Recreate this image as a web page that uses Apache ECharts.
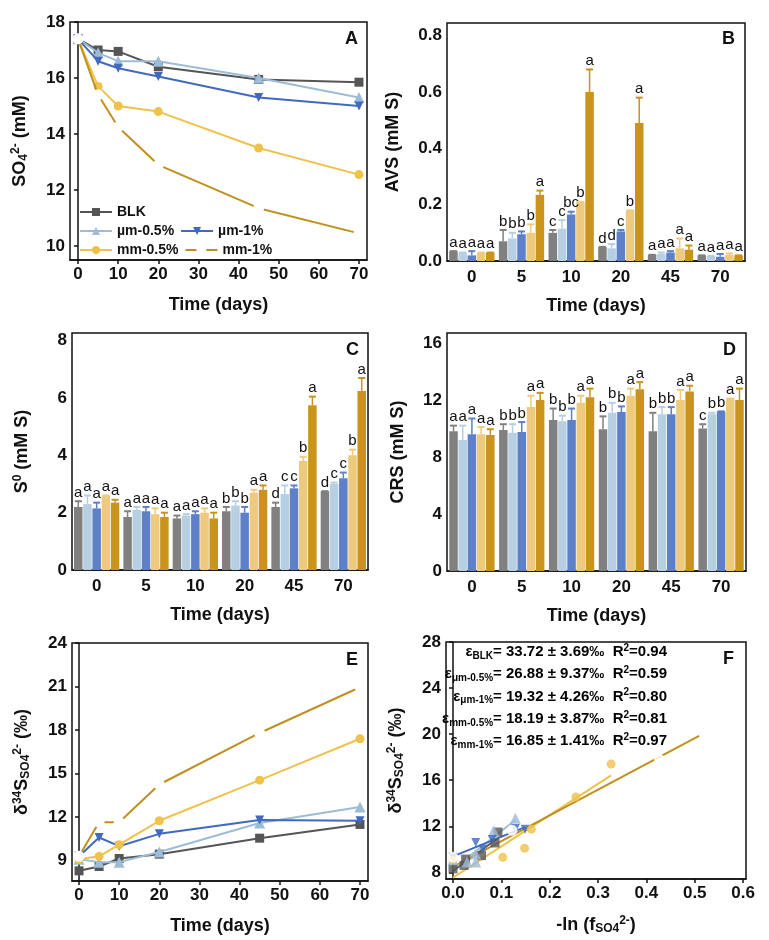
<!DOCTYPE html>
<html>
<head>
<meta charset="utf-8">
<script src="https://cdn.jsdelivr.net/npm/echarts@6/dist/echarts.min.js"></script>
<style>body{margin:0;background:#fff}#c{width:769px;height:940px}</style>
</head>
<body>
<div id="c"></div>
<script>
var names = ['BLK', 'µm-0.5%', 'µm-1%', 'mm-0.5%', 'mm-1%'];
var days = [0, 5, 10, 20, 45, 70];
var dayLabels = ['0', '5', '10', '20', '45', '70'];
var lineColors = ['#555555', '#9dbcd8', '#4169c0', '#efc24c', '#c0901e'];
var barColors = ['#808080', '#b7cfe2', '#5d80c8', '#edca7e', '#c9931c'];
var symbols = ['rect', 'triangle', 'path://M0,0L10,0L5,10Z', 'circle', 'emptyCircle'];

// A: sulfate (mM)
var so4 = [
  [17.4, 17.0, 16.95, 16.4, 15.95, 15.85],
  [17.4, 16.9, 16.6, 16.6, 16.0, 15.3],
  [17.4, 16.6, 16.35, 16.05, 15.3, 15.0],
  [17.4, 15.7, 15.0, 14.8, 13.5, 12.55],
  [17.4, 15.4, 14.25, 12.9, 11.35, 10.45]
];
// B: AVS
var avs = [
  [0.035, 0.07, 0.10, 0.05, 0.022, 0.02],
  [0.03, 0.08, 0.115, 0.045, 0.025, 0.018],
  [0.02, 0.095, 0.165, 0.105, 0.03, 0.015],
  [0.03, 0.10, 0.21, 0.18, 0.045, 0.022],
  [0.03, 0.235, 0.60, 0.49, 0.04, 0.02]
];
var avsErr = [
  [0, 0.04, 0.01, 0, 0, 0],
  [0, 0.02, 0.03, 0.015, 0.005, 0],
  [0.015, 0.01, 0.01, 0.005, 0.005, 0.01],
  [0, 0.03, 0, 0, 0.035, 0.005],
  [0, 0.015, 0.08, 0.09, 0.015, 0]
];
var avsLbl = [
  ['a', 'b', 'c', 'd', 'a', 'a'],
  ['a', 'b', 'c', 'd', 'a', 'a'],
  ['a', 'b', 'bc', 'c', 'a', 'a'],
  ['a', 'b', 'b', 'b', 'a', 'a'],
  ['a', 'a', 'a', 'a', 'a', 'a']
];
// C: S0
var s0 = [
  [2.2, 1.85, 1.8, 2.05, 2.2, 2.75],
  [2.3, 2.1, 1.9, 2.25, 2.65, 3.0],
  [2.15, 2.05, 1.95, 2.0, 2.85, 3.2],
  [2.6, 1.95, 2.0, 2.7, 3.8, 4.0],
  [2.35, 1.85, 1.8, 2.8, 5.75, 6.25]
];
var s0Err = [
  [0.2, 0.2, 0.1, 0.15, 0.15, 0],
  [0.3, 0.1, 0.05, 0.15, 0.3, 0.05],
  [0.2, 0.15, 0.1, 0.2, 0.1, 0.2],
  [0, 0.2, 0.15, 0.1, 0.15, 0.2],
  [0.1, 0.15, 0.2, 0.15, 0.3, 0.45]
];
var s0Lbl = [
  ['a', 'a', 'a', 'b', 'd', 'd'],
  ['a', 'a', 'a', 'b', 'c', 'c'],
  ['a', 'a', 'a', 'b', 'c', 'c'],
  ['a', 'a', 'a', 'a', 'b', 'b'],
  ['a', 'a', 'a', 'a', 'a', 'a']
];
// D: CRS
var crs = [
  [9.8, 9.9, 10.6, 9.95, 9.8, 10.0],
  [9.2, 9.7, 10.5, 11.1, 11.0, 11.0],
  [9.6, 9.75, 10.6, 11.15, 11.0, 11.2],
  [9.6, 11.5, 11.8, 12.3, 12.0, 12.1],
  [9.55, 12.0, 12.2, 12.75, 12.6, 12.0]
];
var crsErr = [
  [0.4, 0.4, 0.8, 0.9, 1.3, 0.3],
  [1.0, 0.6, 0.4, 0.7, 0.5, 0.1],
  [1.1, 0.7, 0.8, 0.4, 0.5, 0],
  [0.5, 0.8, 0.5, 0.5, 0.7, 0],
  [0.4, 0.5, 0.6, 0.5, 0.4, 0.8]
];
var crsLbl = [
  ['a', 'b', 'b', 'b', 'b', 'c'],
  ['a', 'b', 'b', 'b', 'b', 'b'],
  ['a', 'b', 'b', 'b', 'b', 'b'],
  ['a', 'a', 'a', 'a', 'a', 'a'],
  ['a', 'a', 'a', 'a', 'a', 'a']
];
// E: d34S of sulfate
var d34s = [
  [8.3, 8.6, 9.15, 9.45, 10.55, 11.5],
  [9.1, 8.9, 8.9, 9.6, 11.6, 12.7],
  [9.3, 10.6, 10.0, 10.85, 11.8, 11.75],
  [9.1, 9.3, 10.1, 11.75, 14.55, 17.4],
  [9.3, 11.65, 11.65, 14.25, 17.8, 20.95]
];
// F: -ln(f)
var lnf = [
  [0, 0.023, 0.026, 0.059, 0.087, 0.093],
  [0, 0.029, 0.047, 0.047, 0.084, 0.129],
  [0, 0.047, 0.062, 0.081, 0.129, 0.149],
  [0, 0.103, 0.148, 0.162, 0.254, 0.327],
  [0, 0.122, 0.199, 0.299, 0.427, 0.509]
];
var epsText = [
  ['BLK', '33.72 ± 3.69‰', '0.94'],
  ['μm-0.5%', '26.88 ± 9.37‰', '0.59'],
  ['μm-1%', '19.32 ± 4.26‰', '0.80'],
  ['mm-0.5%', '18.19 ± 3.87‰', '0.81'],
  ['mm-1%', '16.85 ± 1.41‰', '0.97']
];

var FONT = 'Liberation Sans';
var tick = {fontFamily: FONT, fontWeight: 'bold', fontSize: 17, color: '#111'};
var nameStyle = {fontFamily: FONT, fontWeight: 'bold', fontSize: 18, color: '#111',
  rich: {
    b: {fontFamily: FONT, fontWeight: 'bold', fontSize: 18, color: '#111'},
    sub: {fontFamily: FONT, fontWeight: 'bold', fontSize: 12, color: '#111', padding: [8, 0, 0, 0]},
    sup: {fontFamily: FONT, fontWeight: 'bold', fontSize: 12, color: '#111', padding: [0, 0, 8, 0]}
  }};
var axLine = {lineStyle: {color: '#111', width: 1.5}};

var grids = [
  {left: 70, top: 22, width: 297, height: 238},
  {left: 447, top: 23, width: 298, height: 238},
  {left: 72, top: 333, width: 296, height: 237},
  {left: 447, top: 333, width: 299, height: 238},
  {left: 72, top: 643, width: 296, height: 238},
  {left: 446, top: 642, width: 300, height: 237}
].map(function (g) {
  return Object.assign({show: true, borderColor: '#111', borderWidth: 1.5, backgroundColor: 'transparent'}, g);
});

function valueX(i, min, max, vals, name, fmt) {
  return {type: 'value', gridIndex: i, min: min, max: max, name: name, nameLocation: 'middle', nameGap: 36,
    nameTextStyle: nameStyle, axisLine: axLine, splitLine: {show: false},
    axisTick: {customValues: vals, length: 4, lineStyle: {width: 1.5}},
    axisLabel: Object.assign({customValues: vals, margin: 6, formatter: fmt}, tick)};
}
function catX(i) {
  return {type: 'category', gridIndex: i, data: dayLabels, name: 'Time (days)', nameLocation: 'middle', nameGap: 36,
    nameTextStyle: nameStyle, axisLine: axLine, axisTick: {show: false}, splitLine: {show: false},
    axisLabel: Object.assign({margin: 8}, tick)};
}
function valueY(i, min, max, vals, name, fmt, gap) {
  return {type: 'value', gridIndex: i, min: min, max: max, name: name, nameLocation: 'middle', nameGap: gap || 40,
    nameTextStyle: nameStyle, axisLine: axLine, splitLine: {show: false},
    axisTick: {customValues: vals, length: 4, lineStyle: {width: 1.5}},
    axisLabel: Object.assign({customValues: vals, margin: 5, formatter: fmt}, tick)};
}

var dayVals = [0, 10, 20, 30, 40, 50, 60, 70];
var xAxis = [
  valueX(0, -2, 72, dayVals, 'Time (days)'),
  catX(1), catX(2), catX(3),
  valueX(4, -1.75, 72, dayVals, 'Time (days)'),
  valueX(5, -0.0145, 0.606, [0, 0.1, 0.2, 0.3, 0.4, 0.5, 0.6], '{b|-ln (f}{sub|SO4}{sup|2-}{b|)}', function (v) { return v.toFixed(1); })
];
var yAxis = [
  valueY(0, 9.5, 18, [10, 12, 14, 16, 18], '{b|SO}{sub|4}{sup|2-}{b| (mM)}'),
  valueY(1, 0, 0.845, [0, 0.2, 0.4, 0.6, 0.8], 'AVS (mM S)', function (v) { return v.toFixed(1); }, 45),
  valueY(2, 0, 8.27, [0, 2, 4, 6, 8], '{b|S}{sup|0}{b| (mM S)}'),
  valueY(3, 0, 16.7, [0, 4, 8, 12, 16], 'CRS (mM S)'),
  valueY(4, 7.6, 24, [9, 12, 15, 18, 21, 24], '{b|δ}{sup|34}{b|S}{sub|SO4}{sup|2-}{b| (‰)}'),
  valueY(5, 7.42, 28, [8, 12, 16, 20, 24, 28], '{b|δ}{sup|34}{b|S}{sub|SO4}{sup|2-}{b| (‰)}')
];

var series = [];
function symStyle(s) {
  return s === 4 ? {color: '#fff', borderColor: lineColors[s], borderWidth: 3} : {color: lineColors[s]};
}
// A and E lines
[[0, so4], [4, d34s]].forEach(function (p) {
  for (var s = 0; s < 5; s++) {
    series.push({type: 'line', name: names[s], xAxisIndex: p[0], yAxisIndex: p[0],
      data: days.map(function (d, j) { return [d, p[1][s][j]]; }),
      symbol: symbols[s], symbolSize: s === 1 ? 11 : 9, showSymbol: true,
      lineStyle: {color: lineColors[s], width: 2}, itemStyle: symStyle(s), z: 3 + s});
  }
});

// bar panels
var BW = 8.5, STEP = 9.2;
[[1, avs, avsErr, avsLbl], [2, s0, s0Err, s0Lbl], [3, crs, crsErr, crsLbl]].forEach(function (p) {
  for (var s = 0; s < 5; s++) {
    series.push({type: 'bar', name: names[s], xAxisIndex: p[0], yAxisIndex: p[0], data: p[1][s],
      barWidth: BW, barGap: ((STEP - BW) / BW * 100) + '%', itemStyle: {color: barColors[s]}, z: 2});
  }
  for (var s2 = 0; s2 < 5; s2++) {
    (function (s, vals, errs, lbls) {
      series.push({type: 'custom', xAxisIndex: p[0], yAxisIndex: p[0], z: 4, silent: true,
        data: vals.map(function (v, j) { return [j, v, errs[s][j]]; }),
        renderItem: function (params, api) {
          var j = api.value(0), v = api.value(1), e = api.value(2);
          var base = api.coord([j, v]), top = api.coord([j, v + e]);
          var x = base[0] + (s - 2) * STEP;
          return {type: 'group', children: [
            {type: 'line', shape: {x1: x, y1: base[1], x2: x, y2: top[1]}, style: {stroke: barColors[s], lineWidth: 1.5}},
            {type: 'line', shape: {x1: x - 3.5, y1: top[1], x2: x + 3.5, y2: top[1]}, style: {stroke: barColors[s], lineWidth: 2}},
            {type: 'text', style: {x: x, y: top[1] - 1, text: lbls[s][params.dataIndex], textAlign: 'center', textVerticalAlign: 'bottom',
              fontFamily: FONT, fontSize: 15, fill: '#111'}}
          ]};
        }});
    })(s2, p[1][s2], p[2], p[3]);
  }
});

// F scatter + least-squares lines
for (var s = 0; s < 5; s++) {
  var pts = lnf[s].map(function (x, j) { return [x, d34s[s][j]]; });
  var n = pts.length, mx = 0, my = 0;
  pts.forEach(function (q) { mx += q[0] / n; my += q[1] / n; });
  var sxy = 0, sxx = 0;
  pts.forEach(function (q) { sxy += (q[0] - mx) * (q[1] - my); sxx += (q[0] - mx) * (q[0] - mx); });
  var k = sxy / sxx, b = my - k * mx, xmax = Math.max.apply(null, lnf[s]);
  series.push({type: 'line', xAxisIndex: 5, yAxisIndex: 5, data: [[0, b], [xmax, b + k * xmax]], showSymbol: false,
    lineStyle: {color: lineColors[s], width: 2}, z: 2, silent: true});
  series.push({type: 'scatter', name: names[s], xAxisIndex: 5, yAxisIndex: 5, data: pts,
    symbol: symbols[s], symbolSize: s === 1 ? 11 : 9, itemStyle: symStyle(s), z: 3});
}

var richEps = {
  b: {fontFamily: FONT, fontWeight: 'bold', fontSize: 15, color: '#111', lineHeight: 20},
  sub: {fontFamily: FONT, fontWeight: 'bold', fontSize: 10, color: '#111', padding: [8, 0, 0, 0]},
  sup: {fontFamily: FONT, fontWeight: 'bold', fontSize: 10, color: '#111', padding: [0, 0, 8, 0]}
};
var graphics = epsText.map(function (t, i) {
  return {type: 'text', right: 769 - 667, top: 643 + i * 22.3,
    style: {text: '{b|ε}{sub|' + t[0] + '}{b|= ' + t[1] + '  R}{sup|2}{b|=' + t[2] + '}', rich: richEps, align: 'right'}};
});
var letters = [['A', 345, 30], ['B', 722, 30], ['C', 346, 341], ['D', 723, 341], ['E', 346, 651], ['F', 723, 650]];
letters.forEach(function (l) {
  graphics.push({type: 'text', left: l[1], top: l[2], style: {text: l[0], fontFamily: FONT, fontWeight: 'bold', fontSize: 18, fill: '#111'}});
});

var legText = {fontFamily: FONT, fontWeight: 'bold', fontSize: 14, color: '#111'};
function leg(data, top) {
  return {data: data, left: 74, top: top, itemWidth: 32, itemHeight: 10, itemGap: 6, textStyle: legText, selectedMode: false};
}

var chart = echarts.init(document.getElementById('c'));
chart.setOption({
  animation: false,
  grid: grids,
  xAxis: xAxis,
  yAxis: yAxis,
  legend: [leg(['BLK'], 200), leg(['µm-0.5%', 'µm-1%'], 219), leg(['mm-0.5%', 'mm-1%'], 238)],
  series: series,
  graphic: graphics
});
</script>
</body>
</html>
